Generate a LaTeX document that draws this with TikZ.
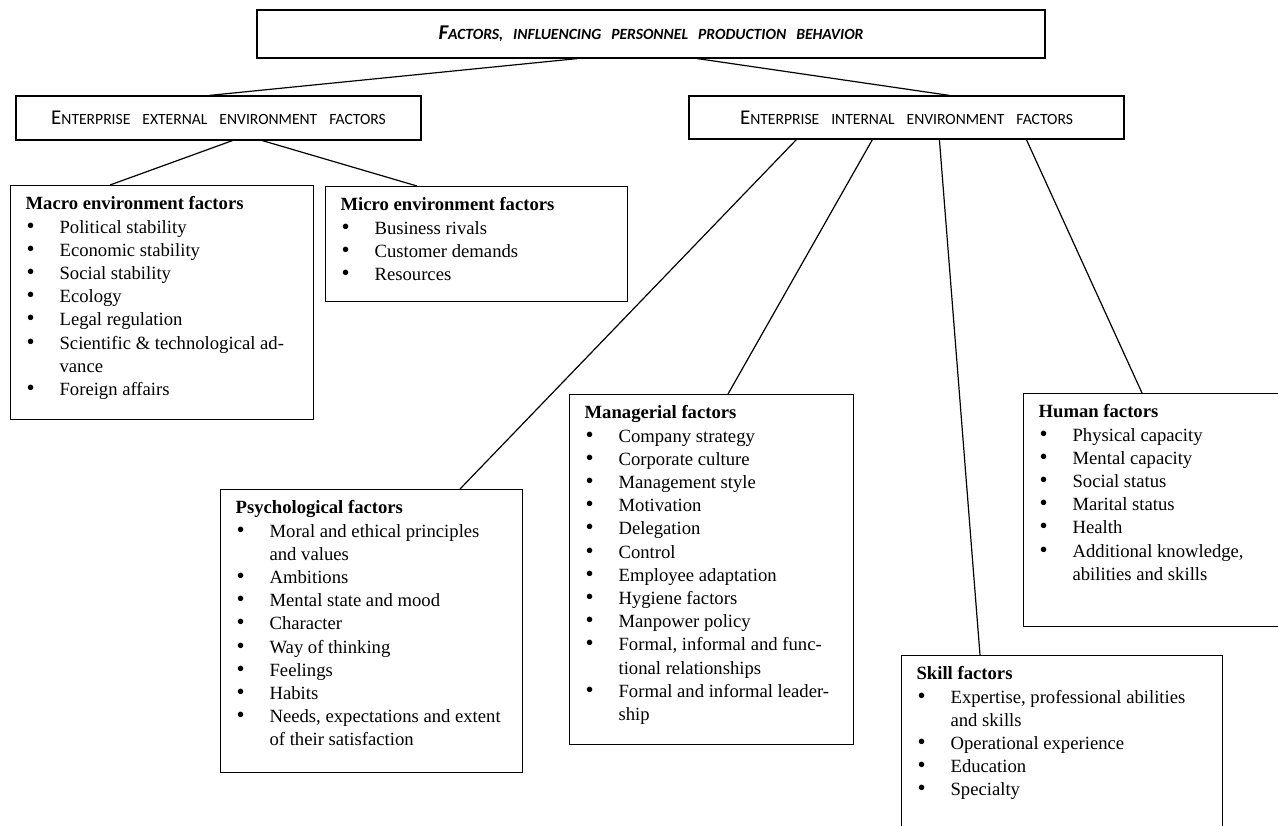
\documentclass[tikz,border=0pt]{standalone}
\usepackage{fontspec}
\setmainfont{Liberation Serif}
\newfontfamily\capfont{Carlito}
\usetikzlibrary{positioning}

\newcommand{\bigc}{\fontsize{10.5pt}{12pt}\selectfont}
\newcommand{\smallc}{\fontsize{7.8pt}{9pt}\selectfont}
\newcommand{\ws}{\hspace{6pt}}
\newcommand{\itm}[1]{\par\hangindent=17pt\hangafter=1\noindent\makebox[17pt][l]{\hspace{0.5pt}{\fontsize{11.5pt}{1pt}\selectfont\textbullet}}#1}
\newcommand{\factbody}[4]{\parbox[c][#2][t]{#1}{\raggedright\noindent\strut\textbf{#3}#4}}

\begin{document}
\begin{tikzpicture}[
 x=0.5pt,y=-0.5pt,
 headbox/.style={draw,line width=0.6pt,inner sep=0pt,font=\capfont\bigc},
 factbox/.style={draw,line width=0.6pt,anchor=north west,inner xsep=7.5pt,inner ysep=4pt,font=\fontsize{9.33pt}{11.6pt}\selectfont},
 link/.style={line width=0.6pt}]
\useasboundingbox (0,0) rectangle (1278,825);
% top level
\node[headbox,minimum width=394pt,minimum height=24pt] (title) at (651,34)
 {\bfseries\itshape F{\smallc ACTORS,}\hspace{5pt}{\smallc INFLUENCING}\hspace{5pt}{\smallc PERSONNEL}\hspace{5pt}{\smallc PRODUCTION}\hspace{5pt}{\smallc BEHAVIOR}};
\node[headbox,minimum width=202.5pt,minimum height=22pt] (ext) at (218.5,118)
 {E{\smallc NTERPRISE}\ws{\smallc EXTERNAL}\ws{\smallc ENVIRONMENT}\ws{\smallc FACTORS}};
\node[headbox,minimum width=217.5pt,minimum height=21.5pt] (int) at (906.5,117.5)
 {E{\smallc NTERPRISE}\ws{\smallc INTERNAL}\ws{\smallc ENVIRONMENT}\ws{\smallc FACTORS}};
% external factors
\node[factbox] (macro) at (10,185) {\factbody{136.5pt}{109pt}{Macro environment factors}{%
 \itm{Political stability}\itm{Economic stability}\itm{Social stability}\itm{Ecology}%
 \itm{Legal regulation}\itm{Scientific \& technological ad-\newline vance}\itm{Foreign affairs}}};
\node[factbox] (micro) at (325,186) {\factbody{136pt}{49.5pt}{Micro environment factors}{%
 \itm{Business rivals}\itm{Customer demands}\itm{Resources}}};
% internal factors
\node[factbox] (psych) at (220,489) {\factbody{136pt}{133.5pt}{Psychological factors}{%
 \itm{Moral and ethical principles\newline and values}\itm{Ambitions}\itm{Mental state and mood}%
 \itm{Character}\itm{Way of thinking}\itm{Feelings}\itm{Habits}%
 \itm{Needs, expectations and extent\newline of their satisfaction}}};
\node[factbox] (manag) at (569,394) {\factbody{127pt}{167pt}{Managerial factors}{%
 \itm{Company strategy}\itm{Corporate culture}\itm{Management style}\itm{Motivation}%
 \itm{Delegation}\itm{Control}\itm{Employee adaptation}\itm{Hygiene factors}%
 \itm{Manpower policy}\itm{Formal, informal and func-\newline tional relationships}%
 \itm{Formal and informal leader-\newline ship}}};
\node[factbox] (human) at (1023,393) {\factbody{118.5pt}{108.5pt}{Human factors}{%
 \itm{Physical capacity}\itm{Mental capacity}\itm{Social status}\itm{Marital status}%
 \itm{Health}\itm{Additional knowledge,\newline abilities and skills}}};
\node[factbox] (skill) at (901,655) {\factbody{145.5pt}{114.5pt}{Skill factors}{%
 \itm{Expertise, professional abilities\newline and skills}\itm{Operational experience}%
 \itm{Education}\itm{Specialty}}};
% connectors
\draw[link] ([xshift=160.5pt]title.south west) -- ([xshift=97pt]ext.north west);
\draw[link] ([xshift=220.5pt]title.south west) -- ([xshift=130.5pt]int.north west);
\draw[link] ([xshift=108.5pt]ext.south west) -- ([xshift=50pt]macro.north west);
\draw[link] ([xshift=123.5pt]ext.south west) -- ([xshift=46pt]micro.north west);
\draw[link] ([xshift=54pt]int.south west) -- ([xshift=120pt]psych.north west);
\draw[link] ([xshift=92pt]int.south west) -- ([xshift=79.5pt]manag.north west);
\draw[link] ([xshift=125.5pt]int.south west) -- ([xshift=39.5pt]skill.north west);
\draw[link] ([xshift=169pt]int.south west) -- ([xshift=59.5pt]human.north west);
\end{tikzpicture}
\end{document}
